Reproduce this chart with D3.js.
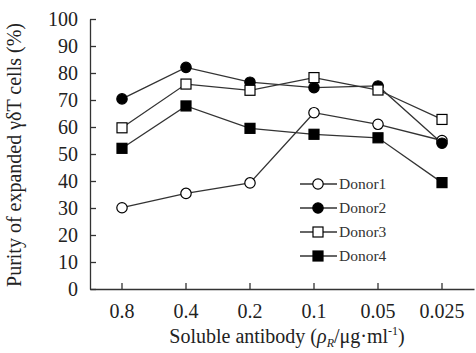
<!DOCTYPE html>
<html lang="en">
<head>
<meta charset="utf-8">
<title>Purity of expanded γδT cells</title>
<script src="https://cdn.jsdelivr.net/npm/d3@7"></script>
<style>
  body { margin: 0; background: #fff; }
  .axis path, .axis line { stroke: #333; stroke-width: 1.3; }
  .axis text { font-family: "Liberation Serif", "Times New Roman", serif; font-size: 20px; fill: #222; }
  .title { font-family: "Liberation Serif", "Times New Roman", serif; font-size: 20px; fill: #222; }
  .legend { font-family: "Liberation Serif", "Times New Roman", serif; font-size: 15.5px; fill: #333; }
</style>
</head>
<body>
<script>
// data
var concentrations = ["0.8", "0.4", "0.2", "0.1", "0.05", "0.025"];
var donor1 = [30.1, 35.4, 39.3, 65.3, 61.0, 55.0];
var donor2 = [70.4, 82.1, 76.6, 74.6, 75.2, 54.0];
var donor3 = [59.7, 75.9, 73.6, 78.3, 73.7, 62.8];
var donor4 = [52.1, 67.8, 59.5, 57.3, 56.0, 39.4];
var yTicks = [0, 10, 20, 30, 40, 50, 60, 70, 80, 90, 100];

var series = [
  {name: "Donor1", values: donor1, shape: "circle", fill: "#fff"},
  {name: "Donor2", values: donor2, shape: "circle", fill: "#000"},
  {name: "Donor3", values: donor3, shape: "square", fill: "#fff"},
  {name: "Donor4", values: donor4, shape: "square", fill: "#000"}
];

var w = 476, h = 353;
var padL = 90, padR = 474, padT = 19, padB = 289;

var svg = d3.select("body").append("svg").attr("width", w).attr("height", h);

var xScale = d3.scaleBand().domain(concentrations).range([padL, padR]).paddingInner(0).paddingOuter(0);
var yScale = d3.scaleLinear().domain([0, 100]).range([padB, padT]);
var xc = function(d) { return xScale(d) + xScale.bandwidth() / 2; };

// axes
var xAxis = d3.axisBottom(xScale).tickSizeInner(-6).tickSizeOuter(0).tickPadding(15);
svg.append("g").attr("class", "axis")
   .attr("transform", "translate(0," + padB + ")")
   .call(xAxis);

var yAxis = d3.axisLeft(yScale).tickValues(yTicks).tickSizeInner(-6).tickSizeOuter(0).tickPadding(12);
svg.append("g").attr("class", "axis")
   .attr("transform", "translate(" + padL + ",0)")
   .call(yAxis);

// axis titles
svg.append("text").attr("class", "title")
   .attr("transform", "translate(21," + 155 + ") rotate(-90)")
   .attr("text-anchor", "middle")
   .text("Purity of expanded γδT cells (%)");

var xt = svg.append("text").attr("class", "title")
   .attr("x", 287).attr("y", 343)
   .attr("font-size", "21px")
   .attr("text-anchor", "middle");
xt.append("tspan").text("Soluble antibody (");
xt.append("tspan").attr("font-style", "italic").text("ρ");
xt.append("tspan").attr("font-style", "italic").attr("font-size", "12px").attr("dy", 4).text("R");
xt.append("tspan").attr("dy", -4).text("/μg·ml");
xt.append("tspan").attr("font-size", "12px").attr("dy", -8).text("-1");
xt.append("tspan").attr("dy", 8).text(")");

// lines and markers
var line = d3.line()
  .x(function(d, i) { return xc(concentrations[i]); })
  .y(function(d) { return yScale(d); });

function marker(g, s, x, y) {
  if (s.shape === "circle") {
    g.append("circle").attr("cx", x).attr("cy", y).attr("r", 5.2)
     .attr("fill", s.fill).attr("stroke", "#000").attr("stroke-width", 1.2);
  } else {
    g.append("rect").attr("x", x - 5).attr("y", y - 5).attr("width", 10).attr("height", 10)
     .attr("fill", s.fill).attr("stroke", "#000").attr("stroke-width", 1.2);
  }
}

series.forEach(function(s) {
  svg.append("path").datum(s.values)
     .attr("fill", "none").attr("stroke", "#333").attr("stroke-width", 1.3)
     .attr("d", line);
});
series.forEach(function(s) {
  var g = svg.append("g");
  s.values.forEach(function(v, i) { marker(g, s, xc(concentrations[i]), yScale(v)); });
});

// legend
var legX = 300, legY = 184, legStep = 24;
series.forEach(function(s, i) {
  var y = legY + i * legStep;
  var g = svg.append("g");
  g.append("line").attr("x1", legX).attr("x2", legX + 37).attr("y1", y).attr("y2", y)
   .attr("stroke", "#333").attr("stroke-width", 1.3);
  marker(g, s, legX + 18, y);
  g.append("text").attr("class", "legend").attr("x", legX + 39).attr("y", y + 5).text(s.name);
});
</script>
</body>
</html>
